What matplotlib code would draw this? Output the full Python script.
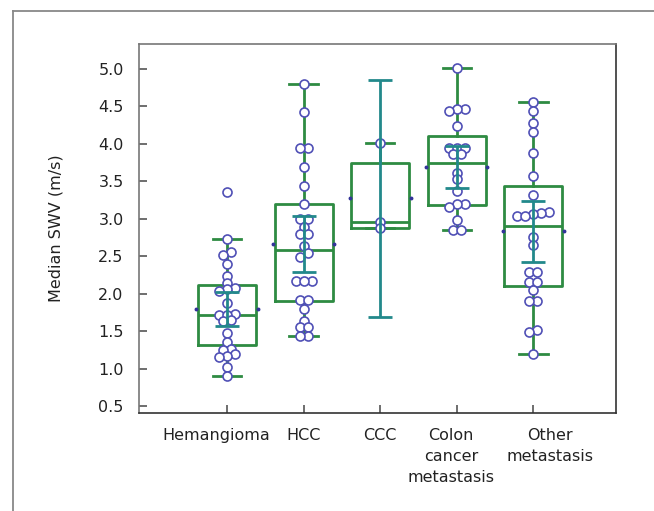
import matplotlib
matplotlib.use('Agg')
import matplotlib.pyplot as plt
import matplotlib.transforms as mtransforms
from matplotlib.lines import Line2D
import numpy as np

# data #

groups = ['Hemangioma', 'HCC', 'CCC', 'Colon\ncancer\nmetastasis', 'Other\nmetastasis']

hemangioma = [3.36, 2.73, 2.55, 2.52, 2.39, 2.24, 2.14, 2.07, 2.06, 2.04, 1.87,
              1.73, 1.72, 1.72, 1.65, 1.63, 1.47, 1.35, 1.26, 1.25, 1.19, 1.17,
              1.15, 1.02, 0.90]
hcc = [4.79, 4.42, 3.94, 3.94, 3.69, 3.43, 3.19, 2.99, 2.99, 2.89, 2.79, 2.79,
       2.64, 2.54, 2.49, 2.17, 2.17, 2.17, 1.91, 1.91, 1.80, 1.63, 1.56, 1.56,
       1.43, 1.43]
ccc = [4.01, 2.95, 2.87]
colon = [5.01, 4.46, 4.46, 4.43, 4.23, 3.94, 3.94, 3.94, 3.86, 3.86, 3.61, 3.53,
         3.37, 3.20, 3.19, 3.16, 2.98, 2.85, 2.85]
other = [4.55, 4.43, 4.27, 4.16, 3.88, 3.57, 3.31, 3.09, 3.07, 3.06, 3.03, 3.03,
         2.76, 2.65, 2.29, 2.29, 2.16, 2.16, 2.05, 1.90, 1.90, 1.52, 1.49, 1.19]

# box statistics (as drawn)
q1 = [1.32, 1.90, 2.88, 3.18, 2.10]
median = [1.72, 2.58, 2.95, 3.74, 2.90]
q3 = [2.11, 3.19, 3.74, 4.10, 3.44]
whisker_lo = [0.90, 1.43, 2.87, 2.85, 1.19]
whisker_hi = [2.73, 4.79, 4.01, 5.01, 4.55]

# mean +/- SD
means = [1.80, 2.66, 3.27, 3.69, 2.83]
sds = [0.225, 0.375, 1.58, 0.285, 0.41]

yticks = [0.5, 1.0, 1.5, 2.0, 2.5, 3.0, 3.5, 4.0, 4.5, 5.0]

# styles #

green = '#2e8b42'
teal = '#22898b'
dot_edge = '#5050b6'
box_w = 0.76
label_shift_px = [-11, 0, 0, -6, 17]


def row_offsets(vals, thr=0.065, step=0.105):
    """Spread points with nearly equal values side by side."""
    order = np.argsort(vals)[::-1]
    offs = np.zeros(len(vals))
    row = []
    rows = []
    for i in order:
        if row and vals[row[0]] - vals[i] > thr:
            rows.append(row)
            row = []
        row.append(i)
    rows.append(row)
    for r in rows:
        r = sorted(r, key=lambda k: vals[k])
        n = len(r)
        for j, k in enumerate(r):
            offs[k] = (j - (n - 1) / 2.0) * step
    return offs


plt.rcParams['font.family'] = ['DejaVu Sans']
fig = plt.figure(figsize=(6.54, 5.11), dpi=100)
ax = fig.add_axes([0.2125, 0.192, 0.7295, 0.722])

pos = np.arange(len(groups))

stats = []
for i in range(len(groups)):
    stats.append(dict(med=median[i], q1=q1[i], q3=q3[i],
                      whislo=whisker_lo[i], whishi=whisker_hi[i], fliers=[]))

line_kw = dict(color=green, linewidth=2.0)
ax.bxp(stats, positions=pos, widths=box_w, capwidths=0.37, showfliers=False,
       boxprops=line_kw, whiskerprops=line_kw, capprops=line_kw,
       medianprops=line_kw, manage_ticks=False, zorder=2)

# tiny mean marks at the box sides
for p, m in zip(pos, means):
    ax.plot([p - box_w / 2 - 0.02, p + box_w / 2 + 0.02], [m, m], ls='none',
            marker='o', ms=1.8, color='#333399', zorder=2)

# individual values
for p, vals in zip(pos, [hemangioma, hcc, ccc, colon, other]):
    vals = np.array(vals)
    ax.scatter(p + row_offsets(vals), vals, s=42, facecolor='white',
               edgecolor=dot_edge, linewidth=1.2, zorder=3)

ax.errorbar(pos, means, yerr=sds, fmt='none', ecolor=teal, elinewidth=2.0,
            capsize=8.5, capthick=2.0, zorder=4)

ax.set_xlim(-1.15, 5.08)
ax.set_ylim(0.41, 5.33)
ax.set_yticks(yticks)
ax.set_yticklabels(['%.1f' % t for t in yticks])
ax.set_xticks(pos)
ax.set_xticklabels(groups, linespacing=1.5)
ax.tick_params(direction='in', length=6, width=1.2, color='#555555',
               labelsize=11.5, labelcolor='#222222', pad=11)
ax.set_ylabel('Median SWV (m/s)', fontsize=11.5, color='#222222', labelpad=25)

for lab, dx in zip(ax.get_xticklabels(), label_shift_px):
    lab.set_transform(lab.get_transform() +
                      mtransforms.ScaledTranslation(dx / 100.0, 0, fig.dpi_scale_trans))

for side in ['left', 'top']:
    ax.spines[side].set_color('#777777')
for side in ['right', 'bottom']:
    ax.spines[side].set_color('#333333')
for s in ax.spines.values():
    s.set_linewidth(1.2)

# outer frame (left and top edges only)
fx = 13 / 654.0
fy = 1 - 11 / 511.0
fig.add_artist(Line2D([fx, fx], [0, fy], color='#888888', lw=1.3))
fig.add_artist(Line2D([fx, 1], [fy, fy], color='#888888', lw=1.3))

fig.savefig('out.png', dpi=100)
